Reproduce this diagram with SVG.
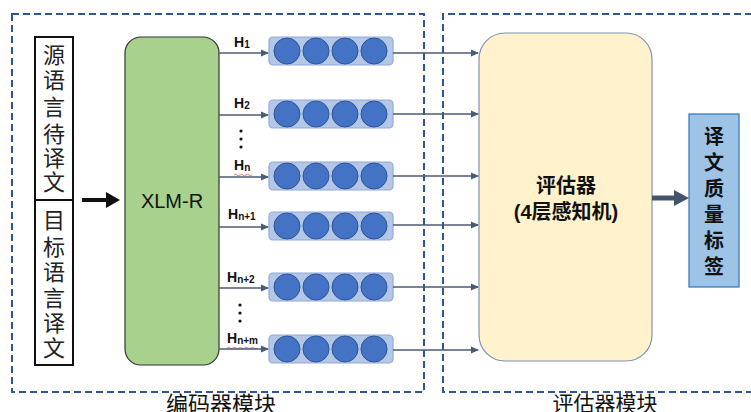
<svg xmlns="http://www.w3.org/2000/svg" width="751" height="412" viewBox="0 0 751 412">
<style>
.dash{fill:none;stroke:#2f5597;stroke-width:2;stroke-dasharray:7 4}
.cjk{font-family:"Liberation Sans","Noto Sans CJK SC",sans-serif}
.src{font-size:22px;fill:#222;text-anchor:middle}
.hl{font-family:"Liberation Sans",sans-serif;font-weight:bold;font-size:14px;fill:#111}
.sub{font-size:10px}
.vec{fill:#b4c7e7;stroke:#8faadc;stroke-width:1.2}
.dot{fill:#4472c4;stroke:#2f5597;stroke-width:1}
.conn{stroke:#4a5b75;stroke-width:1.6;fill:none}
.squig{stroke:#e05050;stroke-width:0.8;fill:none}
</style>
<defs>
<marker id="ah" markerWidth="8" markerHeight="8" refX="7" refY="4" orient="auto" markerUnits="userSpaceOnUse">
<path d="M0,0.5 L8,4 L0,7.5 z" fill="#4a5b75"/>
</marker>
<g id="vecshape">
<rect class="vec" x="0" y="-14" width="124" height="28" rx="4"/>
<circle class="dot" cx="18" cy="0" r="13"/>
<circle class="dot" cx="47" cy="0" r="13"/>
<circle class="dot" cx="76" cy="0" r="13"/>
<circle class="dot" cx="105" cy="0" r="13"/>
</g>
</defs>
<rect width="751" height="412" fill="#fff"/>

<g id="encoder-module">
<rect class="dash" x="12" y="14" width="412" height="378"/>
<text class="cjk" x="221" y="412" font-size="22" text-anchor="middle" fill="#111">编码器模块</text>
</g>
<g id="evaluator-module">
<path class="dash" d="M752,14 H443 V392 H752"/>
<text class="cjk" x="605" y="411" font-size="21" text-anchor="middle" fill="#111">评估器模块</text>
</g>

<g id="source-text">
<rect x="35" y="37" width="38" height="163" fill="#fff" stroke="#111" stroke-width="2"/>
<text class="cjk src"><tspan x="54" y="63">源</tspan><tspan x="54" y="88">语</tspan><tspan x="54" y="115">言</tspan><tspan x="54" y="142">待</tspan><tspan x="54" y="166">译</tspan><tspan x="54" y="190">文</tspan></text>
</g>
<g id="target-text">
<rect x="35" y="200" width="38" height="165" fill="#fff" stroke="#111" stroke-width="2"/>
<text class="cjk src"><tspan x="54" y="228">目</tspan><tspan x="54" y="255">标</tspan><tspan x="54" y="280">语</tspan><tspan x="54" y="306">言</tspan><tspan x="54" y="331">译</tspan><tspan x="54" y="356">文</tspan></text>
</g>

<g id="xlmr">
<rect x="125" y="37" width="94" height="328" rx="16" fill="#a9d18e" stroke="#333" stroke-width="1.2"/>
<text x="172" y="208" font-family="Liberation Sans, sans-serif" font-size="20" text-anchor="middle" fill="#111">XLM-R</text>
</g>

<g id="vectors">
<use href="#vecshape" x="269" y="51"/>
<use href="#vecshape" x="269" y="114"/>
<use href="#vecshape" x="269" y="176"/>
<use href="#vecshape" x="269" y="226"/>
<use href="#vecshape" x="269" y="287"/>
<use href="#vecshape" x="269" y="349"/>
</g>

<g id="h-labels">
<text class="hl" x="234" y="47">H<tspan class="sub" dy="1">1</tspan></text>
<text class="hl" x="234" y="108">H<tspan class="sub" dy="1">2</tspan></text>
<text class="hl" x="234" y="170">H<tspan class="sub" dy="1">n</tspan></text>
<path class="squig" d="M234,175 q1.5,-1.5 3,0 t3,0 t3,0 t3,0 t3,0 t3,0"/>
<text class="hl" x="228" y="219">H<tspan class="sub" dy="1">n+1</tspan></text>
<text class="hl" x="227" y="282">H<tspan class="sub" dy="1">n+2</tspan></text>
<text class="hl" x="227" y="343">H<tspan class="sub" dy="1">n+m</tspan></text>
<path class="squig" d="M227,348 q1.5,-1.5 3,0 t3,0 t3,0 t3,0 t3,0 t3,0 t3,0 t3,0 t3,0 t3,0"/>
<g fill="#111">
<circle cx="241" cy="131" r="1.6"/><circle cx="241" cy="139" r="1.6"/><circle cx="241" cy="147" r="1.6"/>
<circle cx="240" cy="305" r="1.6"/><circle cx="240" cy="313" r="1.6"/><circle cx="240" cy="321" r="1.6"/>
</g>
</g>

<g id="evaluator">
<rect x="479" y="33" width="173" height="328" rx="26" fill="#fff2cc" stroke="#7f93b5" stroke-width="1.2"/>
<text class="cjk" x="566" y="193" font-size="20" font-weight="bold" text-anchor="middle" fill="#111">评估器</text>
<text class="cjk" x="566" y="219" font-size="20" font-weight="bold" text-anchor="middle" fill="#111">(4层感知机)</text>
</g>

<g id="quality-label">
<rect x="689" y="114" width="50" height="173" fill="#9dc3e6" stroke="#2e75b6" stroke-width="1.2"/>
<text class="cjk" font-size="20" font-weight="bold" text-anchor="middle" fill="#111"><tspan x="714" y="144">译</tspan><tspan x="714" y="170">文</tspan><tspan x="714" y="196">质</tspan><tspan x="714" y="222">量</tspan><tspan x="714" y="248">标</tspan><tspan x="714" y="274">签</tspan></text>
</g>

<g id="connectors">
<path d="M82,200 H108" stroke="#111" stroke-width="4" fill="none"/>
<path d="M106,192 L120,200 L106,208 z" fill="#111"/>
<path class="conn" d="M219,53 H268" marker-end="url(#ah)"/>
<path class="conn" d="M219,115 H268" marker-end="url(#ah)"/>
<path class="conn" d="M219,177 H268" marker-end="url(#ah)"/>
<path class="conn" d="M219,227 H268" marker-end="url(#ah)"/>
<path class="conn" d="M219,288 H268" marker-end="url(#ah)"/>
<path class="conn" d="M219,349 H268" marker-end="url(#ah)"/>
<path class="conn" d="M393,53 H478" marker-end="url(#ah)"/>
<path class="conn" d="M393,114 H478" marker-end="url(#ah)"/>
<path class="conn" d="M393,176 H478" marker-end="url(#ah)"/>
<path class="conn" d="M393,225 H478" marker-end="url(#ah)"/>
<path class="conn" d="M393,287 H478" marker-end="url(#ah)"/>
<path class="conn" d="M393,350 H478" marker-end="url(#ah)"/>
<path d="M652,198 H676" stroke="#44546a" stroke-width="5" fill="none"/>
<path d="M674,190 L689,198 L674,206 z" fill="#44546a"/>
</g>
</svg>
